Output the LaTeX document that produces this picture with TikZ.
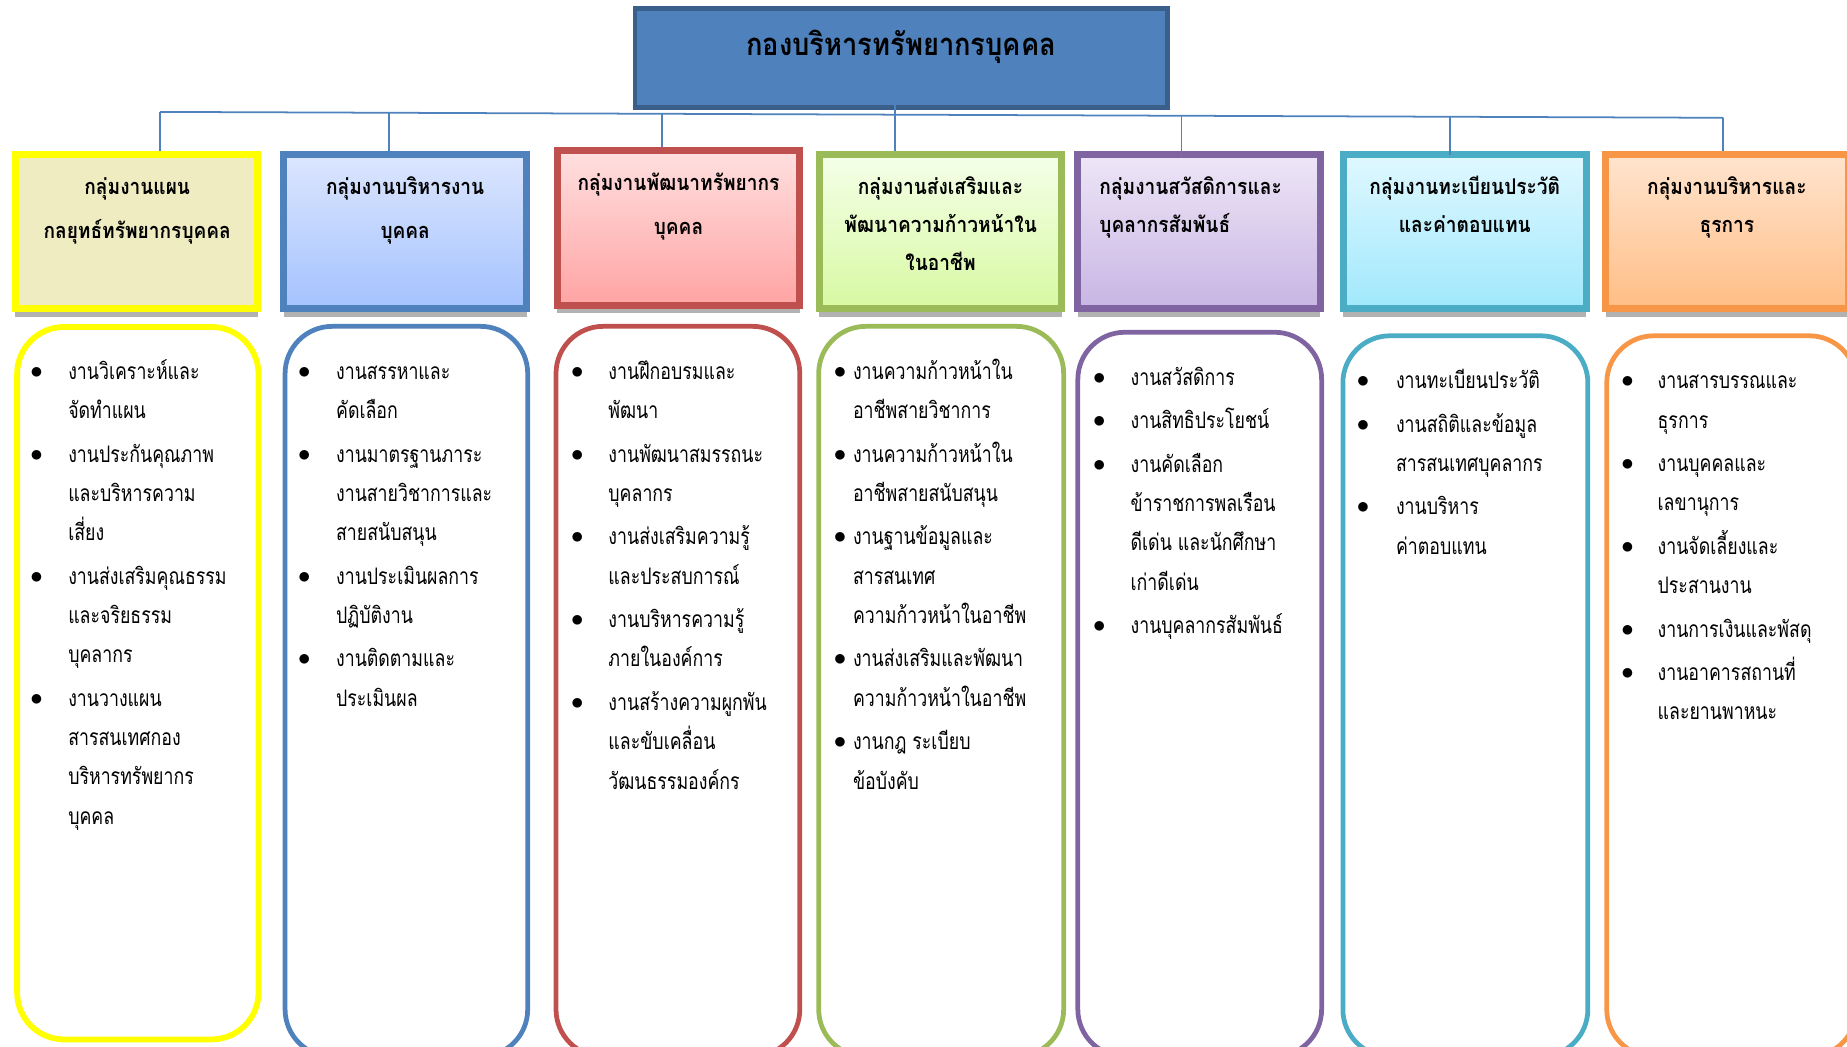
\documentclass[tikz,border=0pt]{standalone}
\usepackage{fontspec}
\setmainfont[Script=Thai, FakeStretch=0.78]{Loma}
\newfontfamily\groupfont[Script=Thai, FakeStretch=0.88]{Loma}
\usetikzlibrary{shadows}

\definecolor{connblue}{HTML}{4F81BD}
\definecolor{topfill}{HTML}{4F81BD}
\definecolor{topedge}{HTML}{3A5F8B}
\definecolor{planedge}{HTML}{FFFF00}
\definecolor{planfill}{HTML}{EEECC0}
\definecolor{hredge}{HTML}{4F81BD}
\definecolor{hrtop}{HTML}{DCE6FE}
\definecolor{hrbot}{HTML}{A4C2FE}
\definecolor{devedge}{HTML}{C0504D}
\definecolor{devtop}{HTML}{FFDFDF}
\definecolor{devbot}{HTML}{FFA4A4}
\definecolor{careeredge}{HTML}{9BBB59}
\definecolor{careertop}{HTML}{F4FFE8}
\definecolor{careerbot}{HTML}{D8F9A2}
\definecolor{welfedge}{HTML}{8064A2}
\definecolor{welftop}{HTML}{EEE6F7}
\definecolor{welfbot}{HTML}{C8B5E3}
\definecolor{recedge}{HTML}{4BACC6}
\definecolor{rectop}{HTML}{E0F8FF}
\definecolor{recbot}{HTML}{A0E8FC}
\definecolor{admedge}{HTML}{F79646}
\definecolor{admtop}{HTML}{FFE4CE}
\definecolor{admbot}{HTML}{FFBE86}

% bullet and list helpers
\newcommand{\blt}{\makebox[0pt]{\raisebox{0.5pt}{\large$\bullet$}}}
\newcommand{\worklist}[2]{\begin{tabular}[t]{@{}p{#1}@{}l@{}}#2\end{tabular}}
\newcommand{\grouplines}[2]{\begin{tabular}[t]{@{}#1@{}}#2\end{tabular}}

\tikzset{
  conn/.style={draw=connblue, line width=0.85pt},
  topbox/.style={draw=topedge, fill=topfill, line width=2.3pt,
    minimum width=9.04cm, minimum height=1.68cm, inner sep=0pt},
  groupbox/.style={line width=3.4pt, minimum width=4.12cm, minimum height=2.62cm,
    inner sep=0pt, drop shadow={shadow xshift=0pt, shadow yshift=-4pt,
    fill=black!30, opacity=1}},
  listbox/.style={draw=#1, line width=2.3pt, rounded corners=0.8cm, fill=white,
    minimum width=4.12cm, minimum height=12.4cm, inner sep=0pt},
  grouptext/.style={font=\groupfont\fontsize{10.5}{#1}\selectfont\bfseries, anchor=base, inner sep=0pt},
  grouptext/.default=21.3pt,
  worktext/.style={font=\fontsize{11}{19}\selectfont, anchor=base west, inner sep=0pt},
}

\begin{document}
\begin{tikzpicture}[x=0.02cm, y=-0.02cm]
  \useasboundingbox (0,0) rectangle (1568,888);
  \clip (0,0) rectangle (1568,888);

  % Rounded boxes for the work lists
  \node[listbox=planedge, line width=2.8pt, minimum width=4.1cm, minimum height=12.1cm] (b1) at (117,580) {};
  \node[listbox=hredge] (b2) at (345,587) {};
  \node[listbox=devedge, minimum width=4.14cm] (b3) at (575.5,587) {};
  \node[listbox=careeredge, minimum width=4.16cm] (b4) at (799,587) {};
  \node[listbox=welfedge, minimum width=4.14cm, minimum height=12.3cm] (b5) at (1018.5,589.5) {};
  \node[listbox=recedge, minimum width=4.16cm, minimum height=12.24cm] (b6) at (1244,591) {};
  \node[listbox=admedge, minimum width=4.24cm, minimum height=12.24cm] (b7) at (1470,591) {};

  % Group boxes
  \node[groupbox, draw=planedge, fill=planfill] (h1) at (116,196.5) {};
  \node[groupbox, draw=hredge, top color=hrtop, bottom color=hrbot] (h2) at (344,196.5) {};
  \node[groupbox, draw=devedge, top color=devtop, bottom color=devbot] (h3) at (576,193.5) {};
  \node[groupbox, draw=careeredge, top color=careertop, bottom color=careerbot] (h4) at (798.5,196.5) {};
  \node[groupbox, draw=welfedge, top color=welftop, bottom color=welfbot] (h5) at (1018,196.5) {};
  \node[groupbox, draw=recedge, top color=rectop, bottom color=recbot] (h6) at (1243.5,196.5) {};
  \node[groupbox, draw=admedge, top color=admtop, bottom color=admbot] (h7) at (1466,196.5) {};

  % Group names
  \node[grouptext] (g1) at (116.5,165) {\grouplines{c}{กลุ่มงานแผน\\ กลยุทธ์ทรัพยากรบุคคล}};
  \node[grouptext] (g2) at (344,165) {\grouplines{c}{กลุ่มงานบริหารงาน\\ บุคคล}};
  \node[grouptext] (g3) at (576,162) {\grouplines{c}{กลุ่มงานพัฒนาทรัพยากร\\ บุคคล}};
  \node[grouptext=18.4pt] (g4) at (798.5,165) {\grouplines{c}{กลุ่มงานส่งเสริมและ\\ พัฒนาความก้าวหน้าใน\\ ในอาชีพ}};
  \node[grouptext=18.4pt, anchor=base west] (g5) at (933,165) {\grouplines{l}{กลุ่มงานสวัสดิการและ\\ บุคลากรสัมพันธ์}};
  \node[grouptext=18.4pt] (g6) at (1243.5,165) {\grouplines{c}{กลุ่มงานทะเบียนประวัติ\\ และค่าตอบแทน}};
  \node[grouptext=18.4pt] (g7) at (1466,165) {\grouplines{c}{กลุ่มงานบริหารและ\\ ธุรการ}};

  % Top box
  \node[topbox] (top) at (765,49) {};
  \node[font=\groupfont\fontsize{15}{18}\selectfont\bfseries, inner sep=0pt] (toptext) at (765,40) {กองบริหารทรัพยากรบุคคล};

  % Connectors
  \coordinate (d1) at (136,95);
  \coordinate (d2) at (330,95.7);
  \coordinate (d3) at (562,96.6);
  \coordinate (d4) at (760,97.4);
  \coordinate (d5) at (1003,98.3);
  \coordinate (d6) at (1231,99.1);
  \coordinate (d7) at (1463,100);
  \coordinate (tdrop) at (760,62);
  \draw[conn] (d1) -- (d7);
  \draw[conn] (tdrop) -- (tdrop |- h4.north);
  \draw[conn] (d1) -- (d1 |- h1.north);
  \draw[conn] (d2) -- (d2 |- h2.north);
  \draw[conn] (d3) -- (d3 |- h3.north);
  \draw[conn] (d5) -- ([yshift=-3pt]d5 |- h5.north);
  \draw[conn] (d6) -- ([yshift=-2pt]d6 |- h6.north);
  \draw[conn] (d7) -- (d7 |- h7.north);

  % Work lists
  \node[worktext] (w1) at (30.6,322) {\worklist{0.54cm}{
    \blt & งานวิเคราะห์และ\\ & จัดทำแผน\\[2pt]
    \blt & งานประกันคุณภาพ\\ & และบริหารความ\\ & เสี่ยง\\[2pt]
    \blt & งานส่งเสริมคุณธรรม\\ & และจริยธรรม\\ & บุคลากร\\[2pt]
    \blt & งานวางแผน\\ & สารสนเทศกอง\\ & บริหารทรัพยากร\\ & บุคคล}};
  \node[worktext] (w2) at (258,322) {\worklist{0.54cm}{
    \blt & งานสรรหาและ\\ & คัดเลือก\\[2pt]
    \blt & งานมาตรฐานภาระ\\ & งานสายวิชาการและ\\ & สายสนับสนุน\\[2pt]
    \blt & งานประเมินผลการ\\ & ปฏิบัติงาน\\[2pt]
    \blt & งานติดตามและ\\ & ประเมินผล}};
  \node[worktext] (w3) at (489.7,322) {\worklist{0.53cm}{
    \blt & งานฝึกอบรมและ\\ & พัฒนา\\[2pt]
    \blt & งานพัฒนาสมรรถนะ\\ & บุคลากร\\[2pt]
    \blt & งานส่งเสริมความรู้\\ & และประสบการณ์\\[2pt]
    \blt & งานบริหารความรู้\\ & ภายในองค์การ\\[2pt]
    \blt & งานสร้างความผูกพัน\\ & และขับเคลื่อน\\ & วัฒนธรรมองค์กร}};
  \node[worktext] (w4) at (712.8,322) {\worklist{0.22cm}{
    \blt & งานความก้าวหน้าใน\\ & อาชีพสายวิชาการ\\[2pt]
    \blt & งานความก้าวหน้าใน\\ & อาชีพสายสนับสนุน\\[2pt]
    \blt & งานฐานข้อมูลและ\\ & สารสนเทศ\\ & ความก้าวหน้าในอาชีพ\\[2pt]
    \blt & งานส่งเสริมและพัฒนา\\ & ความก้าวหน้าในอาชีพ\\[2pt]
    \blt & งานกฎ ระเบียบ\\ & ข้อบังคับ}};
  \node[worktext] (w5) at (933,327) {\worklist{0.53cm}{
    \blt & งานสวัสดิการ\\[2pt]
    \blt & งานสิทธิประโยชน์\\[2pt]
    \blt & งานคัดเลือก\\ & ข้าราชการพลเรือน\\ & ดีเด่น และนักศึกษา\\ & เก่าดีเด่น\\[2pt]
    \blt & งานบุคลากรสัมพันธ์}};
  \node[worktext] (w6) at (1156.8,330) {\worklist{0.56cm}{
    \blt & งานทะเบียนประวัติ\\[2pt]
    \blt & งานสถิติและข้อมูล\\ & สารสนเทศบุคลากร\\[2pt]
    \blt & งานบริหาร\\ & ค่าตอบแทน}};
  \node[worktext] (w7) at (1381.4,330) {\worklist{0.51cm}{
    \blt & งานสารบรรณและ\\ & ธุรการ\\[2pt]
    \blt & งานบุคคลและ\\ & เลขานุการ\\[2pt]
    \blt & งานจัดเลี้ยงและ\\ & ประสานงาน\\[2pt]
    \blt & งานการเงินและพัสดุ\\[2pt]
    \blt & งานอาคารสถานที่\\ & และยานพาหนะ}};
\end{tikzpicture}
\end{document}
